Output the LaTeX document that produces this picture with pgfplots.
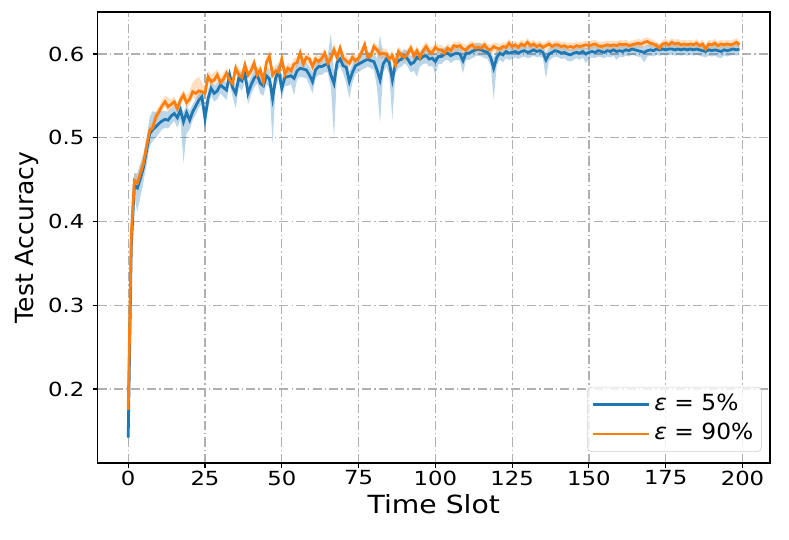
\documentclass[border=0pt]{standalone}
\usepackage{graphicx}
\usepackage{pgfplots}
\pgfplotsset{compat=1.18}
\usepackage{pgfplotstable}
\usepgfplotslibrary{fillbetween}
\usepackage{fontspec}
\setmainfont{DejaVu Sans}
\definecolor{c0}{HTML}{1F77B4}
\definecolor{c1}{HTML}{FF7F0E}
\definecolor{gridc}{HTML}{B0B0B0}
\pgfplotstableread{
t B Bl Bu O Ol Ou
0 0.142 0.136 0.150 0.175 0.172 0.178
1 0.370 0.350 0.395 0.385 0.370 0.400
2 0.443 0.428 0.458 0.449 0.440 0.458
3 0.440 0.412 0.458 0.446 0.438 0.454
4 0.452 0.430 0.470 0.458 0.450 0.466
5 0.465 0.448 0.482 0.470 0.463 0.477
6 0.485 0.468 0.500 0.490 0.483 0.497
7 0.505 0.490 0.525 0.509 0.503 0.515
8 0.510 0.496 0.532 0.512 0.506 0.520
9 0.513 0.500 0.530 0.525 0.518 0.532
10 0.517 0.505 0.531 0.531 0.525 0.537
11 0.520 0.510 0.532 0.538 0.532 0.545
12 0.522 0.512 0.532 0.543 0.537 0.550
13 0.521 0.511 0.531 0.537 0.530 0.548
14 0.526 0.516 0.535 0.540 0.535 0.546
15 0.529 0.520 0.538 0.543 0.537 0.549
16 0.524 0.512 0.534 0.535 0.530 0.541
17 0.533 0.522 0.541 0.545 0.539 0.552
18 0.519 0.470 0.530 0.551 0.545 0.557
19 0.530 0.505 0.540 0.542 0.536 0.550
20 0.521 0.510 0.532 0.546 0.540 0.556
21 0.531 0.521 0.540 0.555 0.548 0.566
22 0.538 0.528 0.547 0.553 0.546 0.570
23 0.545 0.536 0.553 0.556 0.549 0.573
24 0.549 0.540 0.557 0.555 0.549 0.566
25 0.523 0.512 0.535 0.553 0.547 0.561
26 0.547 0.535 0.557 0.573 0.566 0.580
27 0.559 0.550 0.568 0.567 0.561 0.575
28 0.553 0.543 0.562 0.569 0.563 0.578
29 0.556 0.546 0.566 0.575 0.569 0.582
30 0.563 0.553 0.571 0.566 0.560 0.573
31 0.560 0.549 0.569 0.570 0.564 0.577
32 0.557 0.545 0.566 0.577 0.571 0.584
33 0.575 0.565 0.583 0.569 0.563 0.576
34 0.560 0.549 0.569 0.565 0.559 0.572
35 0.553 0.535 0.564 0.583 0.577 0.590
36 0.571 0.561 0.580 0.575 0.569 0.582
37 0.568 0.556 0.578 0.572 0.566 0.580
38 0.577 0.567 0.586 0.587 0.581 0.594
39 0.553 0.540 0.565 0.575 0.569 0.581
40 0.563 0.551 0.573 0.580 0.574 0.587
41 0.571 0.560 0.582 0.589 0.583 0.596
42 0.575 0.565 0.585 0.575 0.569 0.582
43 0.565 0.553 0.576 0.581 0.575 0.588
44 0.562 0.550 0.572 0.567 0.561 0.574
45 0.574 0.564 0.584 0.590 0.584 0.597
46 0.570 0.560 0.582 0.597 0.590 0.604
47 0.547 0.493 0.560 0.575 0.569 0.582
48 0.571 0.560 0.581 0.580 0.574 0.587
49 0.580 0.570 0.590 0.578 0.572 0.585
50 0.559 0.546 0.570 0.594 0.588 0.600
51 0.572 0.562 0.582 0.576 0.570 0.583
52 0.573 0.562 0.583 0.583 0.577 0.590
53 0.574 0.564 0.584 0.580 0.574 0.587
54 0.571 0.551 0.581 0.588 0.582 0.595
55 0.580 0.570 0.590 0.590 0.584 0.597
56 0.583 0.573 0.592 0.601 0.595 0.607
57 0.582 0.572 0.591 0.588 0.582 0.594
58 0.581 0.571 0.590 0.596 0.590 0.602
59 0.575 0.563 0.585 0.594 0.588 0.600
60 0.567 0.553 0.578 0.585 0.579 0.591
61 0.581 0.571 0.590 0.594 0.588 0.600
62 0.585 0.575 0.594 0.591 0.585 0.597
63 0.585 0.575 0.594 0.595 0.589 0.601
64 0.587 0.578 0.596 0.601 0.595 0.607
65 0.588 0.578 0.599 0.589 0.583 0.595
66 0.575 0.560 0.625 0.595 0.589 0.602
67 0.565 0.500 0.578 0.605 0.599 0.613
68 0.590 0.580 0.599 0.596 0.590 0.602
69 0.594 0.585 0.603 0.607 0.601 0.613
70 0.586 0.576 0.595 0.595 0.589 0.601
71 0.584 0.565 0.594 0.592 0.586 0.598
72 0.567 0.547 0.579 0.589 0.583 0.595
73 0.578 0.566 0.588 0.596 0.590 0.602
74 0.586 0.576 0.595 0.592 0.586 0.598
75 0.588 0.578 0.597 0.595 0.589 0.601
76 0.590 0.581 0.599 0.602 0.596 0.608
77 0.592 0.583 0.601 0.611 0.605 0.617
78 0.594 0.585 0.603 0.596 0.590 0.602
79 0.592 0.583 0.601 0.598 0.592 0.604
80 0.591 0.581 0.600 0.609 0.603 0.615
81 0.581 0.560 0.595 0.605 0.599 0.611
82 0.569 0.517 0.623 0.600 0.594 0.606
83 0.588 0.578 0.598 0.601 0.595 0.607
84 0.594 0.585 0.603 0.600 0.594 0.606
85 0.590 0.575 0.600 0.594 0.588 0.600
86 0.569 0.521 0.582 0.598 0.592 0.604
87 0.588 0.577 0.598 0.587 0.581 0.593
88 0.592 0.583 0.601 0.603 0.597 0.609
89 0.594 0.585 0.603 0.598 0.592 0.604
90 0.598 0.589 0.606 0.596 0.590 0.602
91 0.594 0.585 0.603 0.601 0.595 0.607
92 0.588 0.578 0.598 0.607 0.601 0.613
93 0.590 0.580 0.599 0.598 0.592 0.604
94 0.596 0.573 0.604 0.604 0.598 0.610
95 0.594 0.585 0.603 0.596 0.590 0.602
96 0.597 0.588 0.605 0.604 0.598 0.610
97 0.598 0.589 0.606 0.609 0.603 0.615
98 0.594 0.585 0.603 0.603 0.597 0.609
99 0.595 0.586 0.604 0.602 0.596 0.608
100 0.591 0.575 0.600 0.608 0.602 0.614
101 0.597 0.588 0.605 0.605 0.599 0.611
102 0.597 0.588 0.605 0.605 0.599 0.611
103 0.600 0.592 0.608 0.601 0.595 0.607
104 0.601 0.593 0.609 0.607 0.601 0.613
105 0.598 0.589 0.606 0.604 0.598 0.610
106 0.600 0.592 0.608 0.610 0.604 0.615
107 0.601 0.593 0.609 0.609 0.603 0.614
108 0.600 0.592 0.608 0.610 0.604 0.615
109 0.592 0.577 0.601 0.606 0.600 0.612
110 0.601 0.593 0.609 0.605 0.599 0.611
111 0.601 0.593 0.609 0.609 0.603 0.614
112 0.603 0.595 0.611 0.611 0.605 0.616
113 0.605 0.597 0.613 0.607 0.601 0.613
114 0.606 0.598 0.613 0.608 0.602 0.614
115 0.605 0.597 0.612 0.607 0.601 0.613
116 0.603 0.595 0.611 0.611 0.605 0.616
117 0.602 0.594 0.610 0.606 0.600 0.612
118 0.596 0.586 0.605 0.605 0.599 0.611
119 0.583 0.545 0.595 0.609 0.603 0.614
120 0.596 0.587 0.605 0.607 0.601 0.613
121 0.601 0.593 0.609 0.606 0.600 0.612
122 0.599 0.590 0.607 0.609 0.603 0.614
123 0.603 0.595 0.610 0.608 0.602 0.614
124 0.601 0.593 0.609 0.613 0.607 0.618
125 0.602 0.594 0.610 0.609 0.603 0.614
126 0.603 0.596 0.610 0.611 0.606 0.616
127 0.601 0.594 0.608 0.608 0.603 0.613
128 0.603 0.596 0.610 0.612 0.607 0.617
129 0.604 0.597 0.611 0.610 0.605 0.615
130 0.602 0.595 0.609 0.614 0.609 0.619
131 0.603 0.596 0.610 0.610 0.605 0.615
132 0.605 0.598 0.612 0.612 0.607 0.617
133 0.603 0.596 0.610 0.609 0.604 0.614
134 0.604 0.597 0.611 0.611 0.606 0.616
135 0.602 0.595 0.609 0.608 0.603 0.613
136 0.593 0.571 0.602 0.610 0.605 0.615
137 0.600 0.592 0.607 0.612 0.607 0.617
138 0.602 0.595 0.609 0.609 0.604 0.614
139 0.604 0.597 0.611 0.611 0.606 0.616
140 0.603 0.596 0.610 0.611 0.606 0.616
141 0.601 0.594 0.608 0.609 0.604 0.614
142 0.602 0.595 0.609 0.610 0.605 0.615
143 0.600 0.592 0.607 0.608 0.603 0.613
144 0.599 0.591 0.606 0.609 0.604 0.614
145 0.601 0.593 0.608 0.608 0.603 0.613
146 0.602 0.595 0.609 0.610 0.605 0.615
147 0.601 0.593 0.608 0.609 0.604 0.614
148 0.603 0.596 0.610 0.610 0.605 0.615
149 0.600 0.589 0.607 0.611 0.606 0.616
150 0.602 0.595 0.609 0.610 0.605 0.615
151 0.603 0.596 0.610 0.611 0.606 0.616
152 0.602 0.595 0.609 0.612 0.607 0.617
153 0.604 0.597 0.611 0.610 0.605 0.615
154 0.603 0.596 0.610 0.609 0.604 0.614
155 0.602 0.595 0.609 0.610 0.605 0.615
156 0.604 0.597 0.611 0.611 0.606 0.616
157 0.603 0.596 0.610 0.610 0.605 0.615
158 0.605 0.598 0.612 0.611 0.606 0.616
159 0.603 0.593 0.610 0.610 0.605 0.615
160 0.604 0.597 0.611 0.612 0.607 0.617
161 0.603 0.596 0.610 0.611 0.606 0.616
162 0.605 0.598 0.612 0.612 0.607 0.617
163 0.604 0.597 0.611 0.610 0.605 0.615
164 0.606 0.599 0.613 0.611 0.606 0.616
165 0.605 0.598 0.612 0.612 0.607 0.617
166 0.604 0.597 0.611 0.613 0.608 0.618
167 0.603 0.596 0.610 0.612 0.607 0.617
168 0.602 0.590 0.609 0.614 0.609 0.619
169 0.604 0.597 0.611 0.615 0.610 0.620
170 0.605 0.598 0.612 0.613 0.608 0.618
171 0.604 0.597 0.611 0.612 0.607 0.617
172 0.606 0.599 0.613 0.610 0.605 0.615
173 0.605 0.598 0.612 0.607 0.602 0.612
174 0.606 0.599 0.613 0.612 0.607 0.617
175 0.605 0.598 0.612 0.613 0.608 0.618
176 0.606 0.599 0.613 0.611 0.606 0.616
177 0.606 0.599 0.613 0.614 0.609 0.619
178 0.605 0.598 0.612 0.612 0.607 0.617
179 0.606 0.599 0.613 0.613 0.608 0.618
180 0.605 0.598 0.612 0.611 0.606 0.616
181 0.606 0.599 0.613 0.612 0.607 0.617
182 0.605 0.598 0.612 0.611 0.606 0.616
183 0.606 0.599 0.613 0.612 0.607 0.617
184 0.605 0.598 0.612 0.611 0.606 0.616
185 0.606 0.599 0.613 0.613 0.608 0.618
186 0.605 0.598 0.612 0.610 0.605 0.615
187 0.604 0.597 0.611 0.612 0.607 0.617
188 0.603 0.596 0.610 0.606 0.601 0.611
189 0.605 0.598 0.612 0.612 0.607 0.617
190 0.604 0.597 0.611 0.611 0.606 0.616
191 0.605 0.598 0.612 0.613 0.608 0.618
192 0.604 0.596 0.611 0.610 0.605 0.615
193 0.603 0.595 0.610 0.612 0.607 0.617
194 0.605 0.598 0.612 0.611 0.606 0.616
195 0.604 0.597 0.611 0.612 0.607 0.617
196 0.605 0.598 0.612 0.611 0.606 0.616
197 0.606 0.599 0.613 0.612 0.607 0.617
198 0.605 0.598 0.612 0.614 0.609 0.619
199 0.606 0.599 0.613 0.611 0.606 0.616
}\mydata
\begin{document}
\begin{tikzpicture}
\begin{axis}[
  at={(0pt,0pt)}, anchor=south west,
  scale only axis, width=484.06pt, height=324.72pt,
  xmin=-9.95, xmax=208.95, ymin=0.1116, ymax=0.6502,
  xtick={0,25,...,200},
  ytick={0.2,0.3,0.4,0.5,0.6},
  xticklabel={\scalebox{1.17}[1]{\pgfmathprintnumber[assume math mode=true]{\tick}}},
  yticklabel={\scalebox{1.17}[1]{\pgfmathprintnumber[assume math mode=true,fixed,fixed zerofill,precision=1]{\tick}}},
  tick label style={font=\fontsize{14}{16}\selectfont},
  xticklabel style={yshift=1.5pt},
  yticklabel style={xshift=-2.5pt},
  xlabel={\scalebox{1.13}[1]{Time Slot}}, ylabel={Test Accuracy},
  label style={font=\fontsize{18}{22}\selectfont},
  tick align=outside, tick pos=left,
  major tick length=3.5pt,
  every tick/.style={black, line width=0.8pt},
  axis line style={line width=1pt},
  grid=major,
  major grid style={color=gridc, line width=0.9pt, dash pattern=on 6.5pt off 2.2pt on 1pt off 2.2pt},
  legend style={at={(1,0)}, anchor=south east, xshift=-6pt, yshift=8pt,
    draw=black!20, rounded corners=3pt, fill=white, fill opacity=0.8, text opacity=1,
    font=\fontsize{16}{19}\selectfont, inner xsep=2.8pt, inner ysep=4pt, row sep=3.5pt,
    nodes={inner xsep=3pt, inner ysep=1pt, text height=12pt, text depth=3.5pt}},
  legend cell align=left,
  legend image code/.code={\draw[#1] (0pt,0pt) -- (35pt,0pt); \path (0pt,0pt) -- (40.5pt,0pt);},
]
\addplot[draw=none, name path=bl, forget plot] table[x=t, y=Bl] {\mydata};
\addplot[draw=none, name path=bu, forget plot] table[x=t, y=Bu] {\mydata};
\addplot[fill=c0, fill opacity=0.3, draw=none, forget plot] fill between[of=bl and bu];
\addplot[c0, line width=2pt] table[x=t, y=B] {\mydata};
\addlegendentry{\scalebox{1.05}[1]{{\itshape ε} = 5\%}}
\addplot[draw=none, name path=ol, forget plot] table[x=t, y=Ol] {\mydata};
\addplot[draw=none, name path=ou, forget plot] table[x=t, y=Ou] {\mydata};
\addplot[fill=c1, fill opacity=0.25, draw=none, forget plot] fill between[of=ol and ou];
\addplot[c1, line width=2pt] table[x=t, y=O] {\mydata};
\addlegendentry{\scalebox{1.05}[1]{{\itshape ε} = 90\%}}
\end{axis}
\pgfresetboundingbox
\path (-70.3pt,-54.72pt) rectangle (497.74pt,333.36pt);
\end{tikzpicture}
\end{document}
